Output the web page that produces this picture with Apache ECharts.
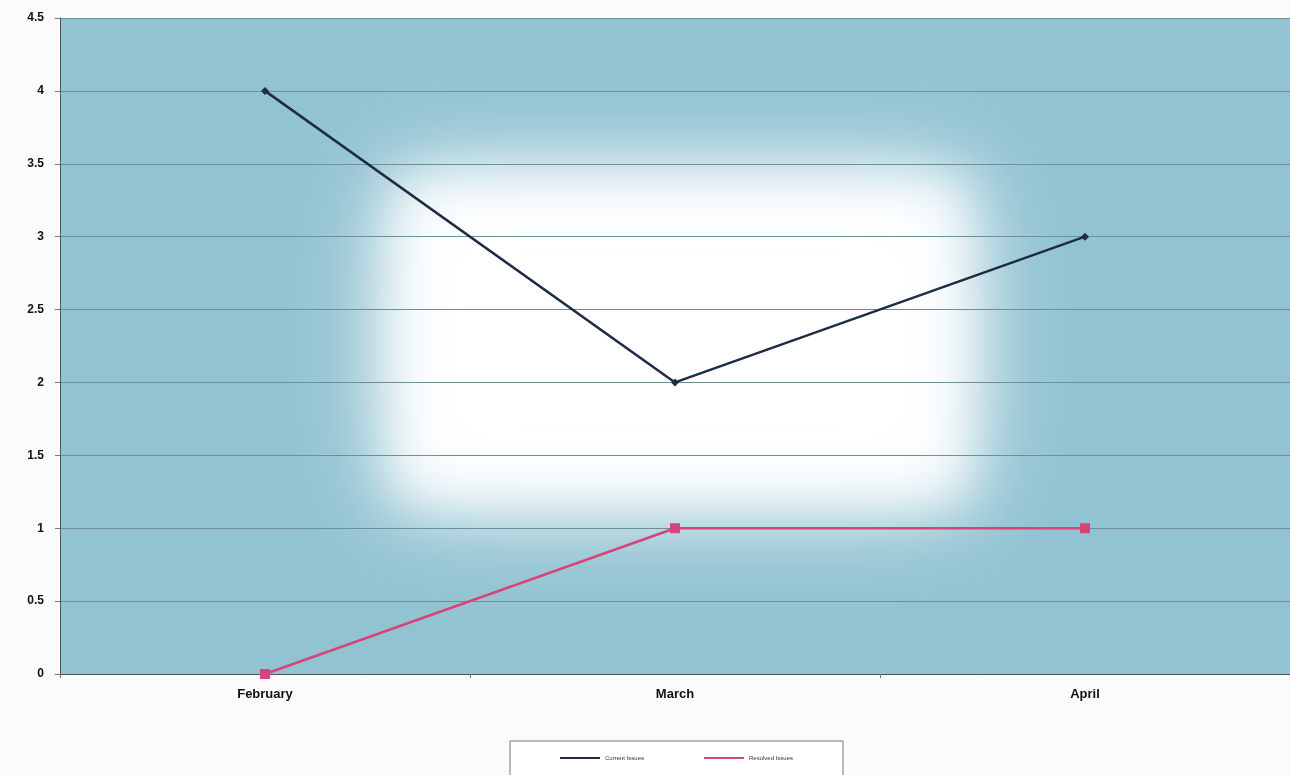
<!DOCTYPE html>
<html><head><meta charset="utf-8">
<script src="https://cdn.jsdelivr.net/npm/echarts@6/dist/echarts.min.js"></script>
<style>html,body{margin:0;padding:0;background:#fbfbfb;}#c{width:1290px;height:775px;}</style>
</head><body><div id="c"></div>
<script>
const categories = ['February', 'March', 'April'];
const seriesNames = ['Current Issues', 'Resolved Issues'];
const series1 = [4, 2, 3];
const series2 = [0, 1, 1];
const yTicks = [0, 0.5, 1, 1.5, 2, 2.5, 3, 3.5, 4, 4.5];

const chart = echarts.init(document.getElementById('c'));
const OFF = 4000;
chart.setOption({
  backgroundColor: '#fbfbfb',
  animation: false,
  grid: { left: 60, top: 18, width: 1236, bottom: 101, containLabel: false },
  graphic: [
    { type: 'rect', z: -10, shape: { x: 60, y: 18, width: 1236, height: 656 }, style: { fill: '#92c3d2' } },
    { type: 'rect', z: -9, shape: { x: 395 - OFF, y: 180, width: 570, height: 320 },
      style: { fill: '#ffffff', shadowBlur: 100, shadowColor: '#ffffff', shadowOffsetX: OFF } },
    { type: 'rect', z: -9, shape: { x: 395 - OFF, y: 180, width: 570, height: 320 },
      style: { fill: '#ffffff', shadowBlur: 50, shadowColor: 'rgba(255,255,255,0.9)', shadowOffsetX: OFF } }
  ],
  legend: {
    bottom: -4, left: 510,
    data: seriesNames,
    itemWidth: 40, itemHeight: 2, itemGap: 60,
    icon: 'rect',
    textStyle: { fontSize: 6, color: '#333', fontFamily: 'Liberation Sans' },
    borderColor: '#777', borderWidth: 1, padding: [14, 50, 18, 50],
    backgroundColor: '#ffffff'
  },
  xAxis: {
    type: 'category', data: categories, boundaryGap: true,
    axisLine: { lineStyle: { color: '#555', width: 1 } },
    axisTick: { show: true, length: 4, lineStyle: { color: '#777' } },
    axisLabel: { color: '#111', fontSize: 13, fontWeight: 'bold', fontFamily: 'Liberation Sans', margin: 14 }
  },
  yAxis: {
    type: 'value', min: 0, max: 4.5, interval: 0.5,
    axisLine: { show: true, lineStyle: { color: '#555', width: 1 } },
    axisTick: { show: true, length: 5, lineStyle: { color: '#777' } },
    axisLabel: { color: '#111', fontSize: 12, fontWeight: 'bold', fontFamily: 'Liberation Sans', margin: 16,
      formatter: v => String(v) },
    splitLine: { show: true, lineStyle: { color: '#6d8f9a', width: 1.2 } }
  },
  series: [
    { name: seriesNames[0], type: 'line', data: series1, symbol: 'diamond', symbolSize: 8,
      lineStyle: { color: '#1f2c45', width: 2.5 }, itemStyle: { color: '#1f2c45' } },
    { name: seriesNames[1], type: 'line', data: series2, symbol: 'rect', symbolSize: 10,
      lineStyle: { color: '#d8437a', width: 2.5 }, itemStyle: { color: '#d8437a' } }
  ]
});
</script></body></html>
